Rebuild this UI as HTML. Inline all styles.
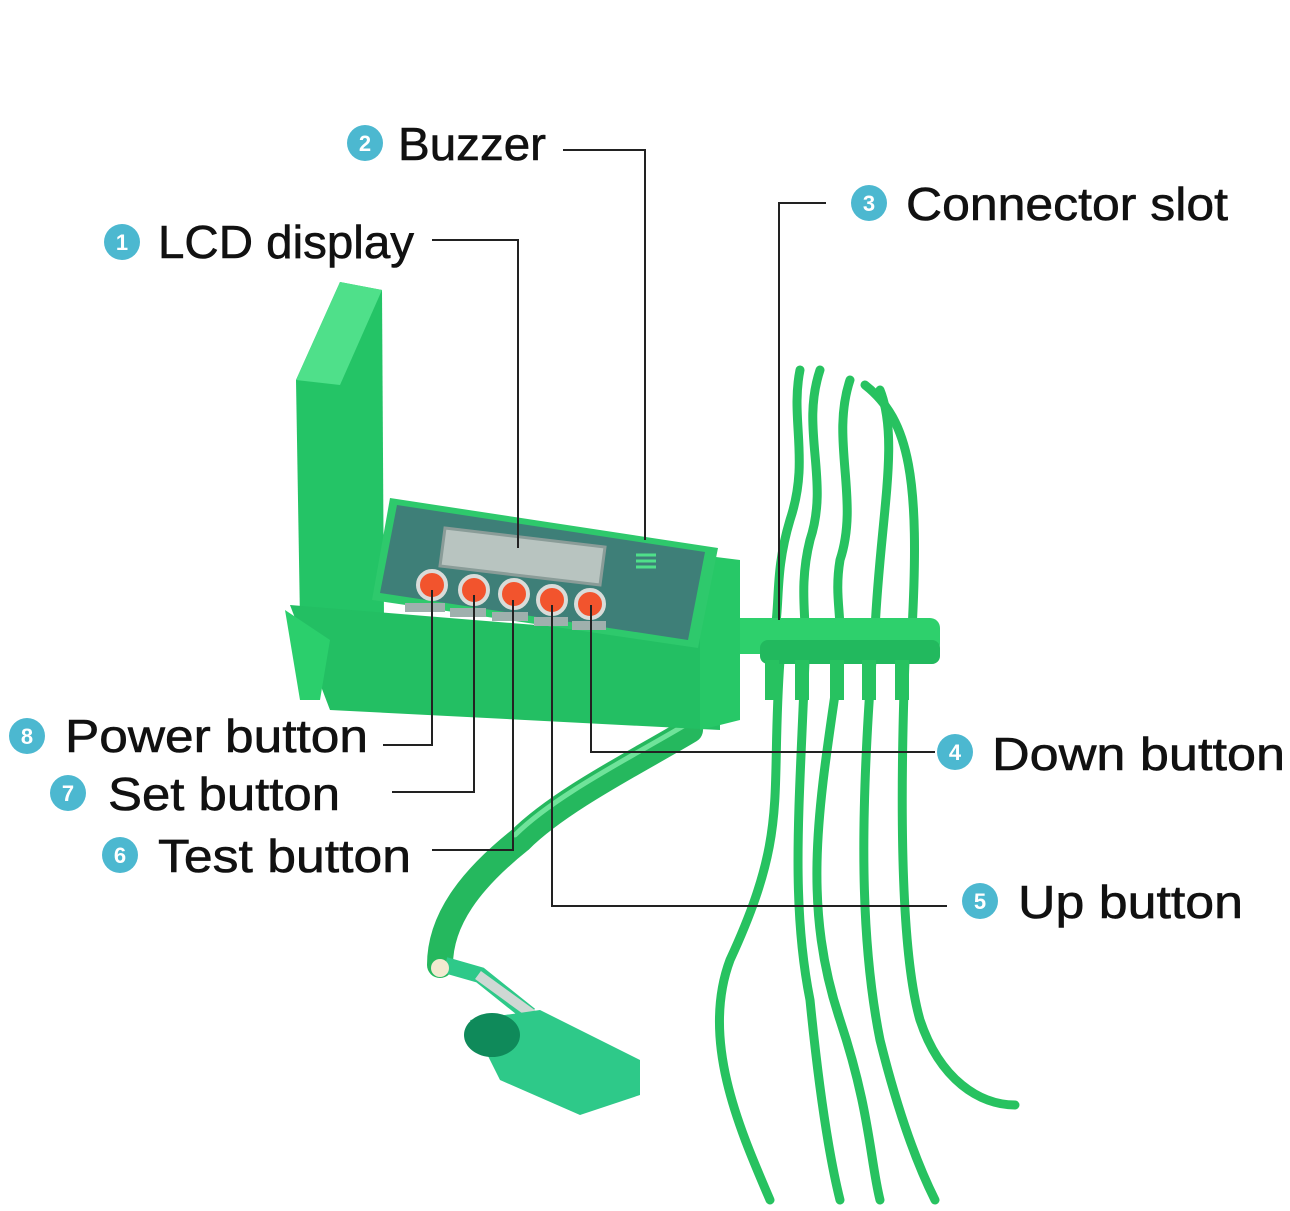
<!DOCTYPE html>
<html><head><style>
html,body{margin:0;padding:0;background:#fff;}
svg{display:block}
text{font-family:"Liberation Sans",sans-serif;fill:#111;}
.n{fill:#fff;font-size:22px;font-weight:bold;text-anchor:middle}
.l{font-size:46px;stroke:#111;stroke-width:0.6}
</style></head><body>
<svg width="1290" height="1211" viewBox="0 0 1290 1211" xmlns="http://www.w3.org/2000/svg">
<rect width="1290" height="1211" fill="#fff"/>
<g fill="none" stroke="#27c260" stroke-width="9" stroke-linecap="round">
<path d="M800 370 C790 420 810 460 790 520 C775 570 780 600 775 630"/>
<path d="M820 370 C800 430 830 480 810 540 C800 580 805 610 805 630"/>
<path d="M850 380 C830 440 860 500 840 560 C835 590 840 610 840 630"/>
<path d="M880 390 C900 440 880 520 875 630"/>
<path d="M865 385 C910 420 920 480 912 630"/>
<path d="M780 660 C770 800 790 830 730 960 C700 1040 740 1130 770 1200"/>
<path d="M805 660 C800 800 790 900 810 1000 C820 1100 830 1160 840 1200"/>
<path d="M840 660 C820 800 800 900 840 1020 C870 1110 870 1160 880 1200"/>
<path d="M872 660 C860 820 860 940 880 1040 C900 1120 920 1170 935 1200"/>
<path d="M905 660 C900 800 900 950 920 1020 C940 1080 980 1105 1015 1105"/>
</g>
<rect x="690" y="618" width="250" height="36" rx="10" fill="#2ed06c"/>
<rect x="760" y="640" width="180" height="24" rx="8" fill="#22b95e"/>
<g fill="#27c260"><rect x="765" y="660" width="14" height="40"/><rect x="795" y="660" width="14" height="40"/><rect x="830" y="660" width="14" height="40"/><rect x="862" y="660" width="14" height="40"/><rect x="895" y="660" width="14" height="40"/></g>
<g fill="none" stroke-linecap="round">
<path d="M690 730 C640 760 560 800 520 840 C470 880 440 920 440 965" stroke="#25b85e" stroke-width="26"/>
<path d="M685 725 C635 755 555 795 515 835" stroke="#6fe39a" stroke-width="5"/>
</g>
<path d="M445 965 L480 975 L530 1015" stroke="#2ec989" stroke-width="16" fill="none"/>
<path d="M478 975 L540 1020" stroke="#cfd8d4" stroke-width="10" fill="none"/>
<path d="M470 1020 L540 1010 L640 1060 L640 1095 L580 1115 L500 1080 Z" fill="#2ec989"/>
<ellipse cx="492" cy="1035" rx="28" ry="22" fill="#0f8a5a"/>
<circle cx="440" cy="968" r="9" fill="#f2ead0"/>
<path d="M296 380 L340 282 L382 290 L384 620 L345 640 L300 620 Z" fill="#24c466"/>
<path d="M296 380 L340 282 L382 290 L340 385 Z" fill="#4fe08a"/>
<path d="M290 605 L720 640 L720 730 L330 710 Z" fill="#23bf63"/>
<path d="M285 610 L300 700 L320 700 L330 640 Z" fill="#2bcf6c"/>
<path d="M700 555 L740 560 L740 720 L700 730 Z" fill="#27c867"/>
<path d="M390 498 L718 548 L698 648 L372 600 Z" fill="#2ec96c"/>
<path d="M397 505 L705 552 L688 640 L380 593 Z" fill="#3e7f78"/>
<path d="M445 528 L605 547 L600 585 L440 566 Z" fill="#b8c4c0" stroke="#8a9c98" stroke-width="3"/>
<g fill="none" stroke="#4fe08a" stroke-width="3"><path d="M636 555 h20 M636 561 h20 M636 567 h20"/></g>
<g fill="#f2542d" stroke="#d9dcd9" stroke-width="4">
<circle cx="432" cy="585" r="14"/><circle cx="474" cy="590" r="14"/><circle cx="514" cy="594" r="14"/><circle cx="552" cy="600" r="14"/><circle cx="590" cy="604" r="14"/>
</g>
<g fill="#9fb0ad"><rect x="405" y="603" width="40" height="9"/><rect x="450" y="608" width="36" height="9"/><rect x="492" y="612" width="36" height="9"/><rect x="534" y="617" width="34" height="9"/><rect x="572" y="621" width="34" height="9"/></g>
<g fill="none" stroke="#222" stroke-width="2">
<path d="M563 150 H645 V540"/>
<path d="M432 240 H518 V548"/>
<path d="M826 203 H779 V620"/>
<path d="M383 745 H432 V590"/>
<path d="M392 792 H474 V595"/>
<path d="M432 850 H513 V600"/>
<path d="M935 752 H591 V605"/>
<path d="M947 906 H552 V605"/>
</g>
<g fill="#4cb8d0">
<circle cx="365" cy="143" r="18"/><circle cx="122" cy="242" r="18"/><circle cx="869" cy="203" r="18"/><circle cx="27" cy="736" r="18"/><circle cx="68" cy="793" r="18"/><circle cx="120" cy="855" r="18"/><circle cx="955" cy="752" r="18"/><circle cx="980" cy="901" r="18"/>
</g>
<text class="n" x="365" y="151">2</text><text class="n" x="122" y="250">1</text><text class="n" x="869" y="211">3</text><text class="n" x="27" y="744">8</text><text class="n" x="68" y="801">7</text><text class="n" x="120" y="863">6</text><text class="n" x="955" y="760">4</text><text class="n" x="980" y="909">5</text>
<text class="l" x="398" y="160" textLength="148" lengthAdjust="spacingAndGlyphs">Buzzer</text>
<text class="l" x="158" y="258" textLength="256" lengthAdjust="spacingAndGlyphs">LCD display</text>
<text class="l" x="906" y="220" textLength="322" lengthAdjust="spacingAndGlyphs">Connector slot</text>
<text class="l" x="65" y="752" textLength="303" lengthAdjust="spacingAndGlyphs">Power button</text>
<text class="l" x="108" y="810" textLength="232" lengthAdjust="spacingAndGlyphs">Set button</text>
<text class="l" x="158" y="872" textLength="253" lengthAdjust="spacingAndGlyphs">Test button</text>
<text class="l" x="992" y="770" textLength="293" lengthAdjust="spacingAndGlyphs">Down button</text>
<text class="l" x="1018" y="918" textLength="225" lengthAdjust="spacingAndGlyphs">Up button</text>
</svg>
</body></html>
